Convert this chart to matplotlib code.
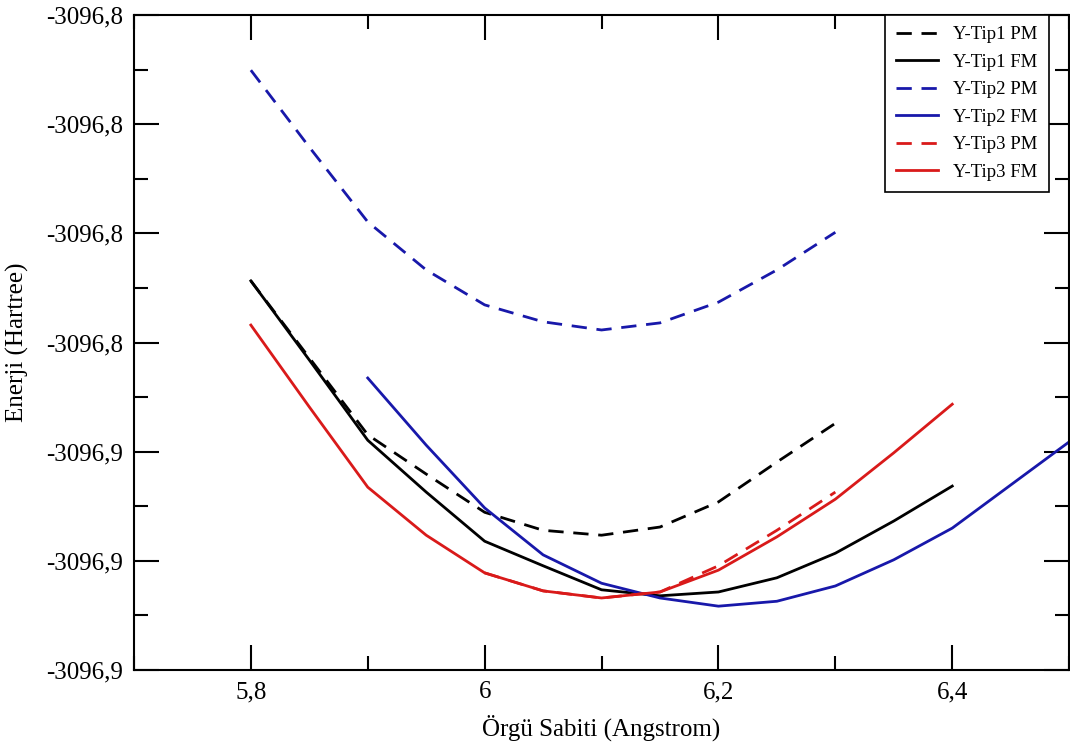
import matplotlib
matplotlib.use("Agg")
import matplotlib.pyplot as plt
from matplotlib.ticker import FuncFormatter, MultipleLocator

# lattice constant (Angstrom)
x_tip1 = [5.8, 5.85, 5.9, 5.95, 6.0, 6.05, 6.1, 6.15, 6.2, 6.25, 6.3, 6.35, 6.4]
x_tip1_pm = [5.8, 5.85, 5.9, 5.95, 6.0, 6.05, 6.1, 6.15, 6.2, 6.25, 6.3]
x_tip2_pm = [5.8, 5.85, 5.9, 5.95, 6.0, 6.05, 6.1, 6.15, 6.2, 6.25, 6.3]
x_tip2_fm = [5.9, 5.95, 6.0, 6.05, 6.1, 6.15, 6.2, 6.25, 6.3, 6.35, 6.4, 6.45, 6.5]
x_tip3_fm = [5.8, 5.85, 5.9, 5.95, 6.0, 6.05, 6.1, 6.15, 6.2, 6.25, 6.3, 6.35, 6.4]
x_tip3_pm = [6.0, 6.05, 6.1, 6.15, 6.2, 6.25, 6.3]

# energies (Hartree)
e_tip1_pm = [-3096.8287, -3096.8428, -3096.8569, -3096.8641, -3096.8711, -3096.8744,
             -3096.8753, -3096.8738, -3096.8692, -3096.8619, -3096.8548]
e_tip1_fm = [-3096.8287, -3096.8432, -3096.8579, -3096.8674, -3096.8764, -3096.8809,
             -3096.8853, -3096.8864, -3096.8857, -3096.8831, -3096.8786, -3096.8727,
             -3096.8663]
e_tip2_pm = [-3096.7901, -3096.8042, -3096.8179, -3096.8267, -3096.8331, -3096.8362,
             -3096.8377, -3096.8364, -3096.8326, -3096.8267, -3096.8198]
e_tip2_fm = [-3096.8465, -3096.8588, -3096.8703, -3096.8789, -3096.8841, -3096.8868,
             -3096.8883, -3096.8874, -3096.8846, -3096.8798, -3096.8740, -3096.8661,
             -3096.8582]
e_tip3_pm = [-3096.8822, -3096.8855, -3096.8868, -3096.8857, -3096.8809, -3096.8744,
             -3096.8674]
e_tip3_fm = [-3096.8368, -3096.8518, -3096.8665, -3096.8753, -3096.8822, -3096.8855,
             -3096.8868, -3096.8857, -3096.8817, -3096.8756, -3096.8687, -3096.8602,
             -3096.8513]

BLUE = "#1818aa"
RED = "#d91a1a"
DASH = (0, (5.5, 3.5))


def comma(fmt):
    return FuncFormatter(lambda v, pos: (fmt % v).replace(".", ","))


def plot_energies():
    plt.rcParams["font.family"] = ["Liberation Serif", "DejaVu Serif"]
    fig = plt.figure(figsize=(10.7, 7.52), dpi=100)
    ax = fig.add_axes([0.1252, 0.109, 0.874, 0.871])

    ax.plot(x_tip1_pm, e_tip1_pm, color="black", lw=2, linestyle=DASH, label="Y-Tip1 PM")
    ax.plot(x_tip1, e_tip1_fm, color="black", lw=2, label="Y-Tip1 FM")
    ax.plot(x_tip2_pm, e_tip2_pm, color=BLUE, lw=2, linestyle=DASH, label="Y-Tip2 PM")
    ax.plot(x_tip2_fm, e_tip2_fm, color=BLUE, lw=2, label="Y-Tip2 FM")
    ax.plot(x_tip3_pm, e_tip3_pm, color=RED, lw=2, linestyle=DASH, label="Y-Tip3 PM")
    ax.plot(x_tip3_fm, e_tip3_fm, color=RED, lw=2, label="Y-Tip3 FM")

    ax.set_xlim(5.7, 6.5)
    ax.set_ylim(-3096.90, -3096.78)
    ax.xaxis.set_major_locator(MultipleLocator(0.2))
    ax.xaxis.set_minor_locator(MultipleLocator(0.1))
    ax.yaxis.set_major_locator(MultipleLocator(0.02))
    ax.yaxis.set_minor_locator(MultipleLocator(0.01))
    ax.xaxis.set_major_formatter(comma("%g"))
    ax.yaxis.set_major_formatter(comma("%.1f"))

    ax.tick_params(which="both", direction="in", top=True, right=True,
                   width=1.5, labelsize=18)
    ax.tick_params(which="major", length=18, pad=8)
    ax.tick_params(which="minor", length=10)
    for s in ax.spines.values():
        s.set_linewidth(1.5)

    ax.set_xlabel("Örgü Sabiti (Angstrom)", fontsize=18, labelpad=8)
    ax.set_ylabel("Enerji (Hartree)", fontsize=18, labelpad=12)

    leg = ax.legend(loc="upper right", bbox_to_anchor=(0.978, 1.0), borderaxespad=0,
                    fontsize=13.5, handlelength=2.25, handletextpad=0.8,
                    labelspacing=0.55, borderpad=0.6,
                    fancybox=False, framealpha=1, edgecolor="black")
    leg.get_frame().set_linewidth(1.2)
    fig.savefig("out.png", dpi=100)


if __name__ == "__main__":
    plot_energies()
